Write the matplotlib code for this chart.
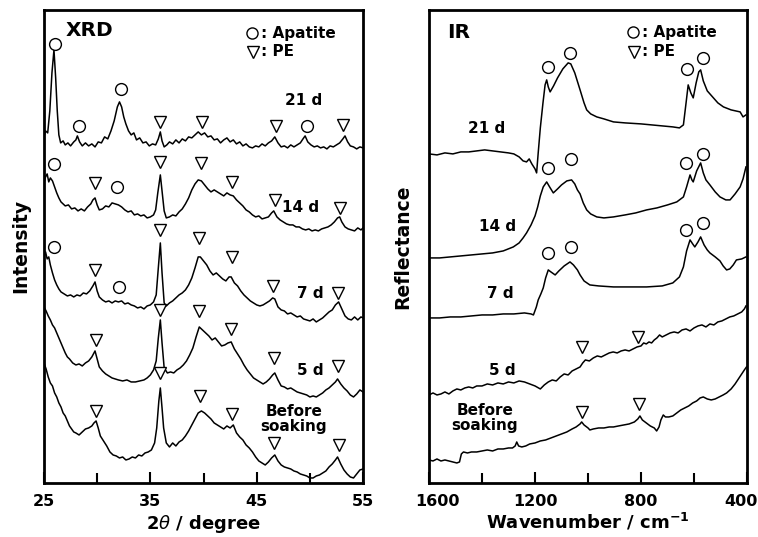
import matplotlib
matplotlib.use("Agg")
import matplotlib.pyplot as plt
from matplotlib.transforms import ScaledTranslation

plt.rcParams['font.family'] = ['DejaVu Sans']
plt.rcParams['font.weight'] = 'bold'
plt.rcParams['mathtext.fontset'] = 'custom'
plt.rcParams['mathtext.it'] = 'DejaVu Sans:italic:normal'
plt.rcParams['mathtext.rm'] = 'DejaVu Sans:bold'

# ---- XRD: 2theta (degree) and stacked intensity (arbitrary units) ----
xrd_21_x = [25.0, 25.15, 25.35, 25.55, 25.75, 25.94, 26.1, 26.25, 26.4, 26.57, 26.8, 27.0, 27.25, 27.5, 27.8,
            28.0, 28.14, 28.35, 28.6, 28.9, 29.2, 29.5, 29.8, 30.1, 30.4, 30.7, 31.0, 31.3, 31.6, 31.9,
            32.1, 32.3, 32.5, 32.7, 32.95, 33.2, 33.45, 33.7, 34.0, 34.3, 34.6, 34.9, 35.2, 35.5, 35.75,
            35.94, 36.1, 36.3, 36.55, 36.8, 37.1, 37.4, 37.7, 38.0, 38.3, 38.6, 38.9, 39.2, 39.5, 39.8,
            40.1, 40.4, 40.7, 41.0, 41.3, 41.6, 41.9, 42.2, 42.5, 42.8, 43.1, 43.4, 43.7, 44.0, 44.3,
            44.6, 44.9, 45.2, 45.5, 45.8, 46.1, 46.4, 46.7, 47.0, 47.3, 47.6, 47.9, 48.2, 48.5, 48.8,
            49.1, 49.35, 49.55, 49.8, 50.1, 50.4, 50.7, 51.0, 51.3, 51.6, 51.9, 52.2, 52.5, 52.8, 53.1,
            53.3, 53.55, 53.8, 54.1, 54.4, 54.7, 55.0]
xrd_21_y = [346, 352, 350, 372, 410, 433, 405, 372, 348, 340, 342, 338, 340, 337, 341,
            343, 347, 341, 337, 340, 337, 339, 336, 341, 340, 346, 344, 352, 362, 376,
            381, 376, 366, 359, 352, 348, 350, 343, 345, 340, 341, 337, 339, 338, 344,
            351, 342, 336, 338, 341, 339, 343, 340, 344, 342, 346, 345, 348, 351, 348,
            350, 346, 347, 343, 344, 340, 343, 345, 341, 343, 339, 341, 337, 339, 336,
            335, 337, 336, 339, 337, 340, 342, 346, 340, 336, 337, 335, 338, 336, 338,
            340, 344, 347, 341, 338, 336, 337, 335, 336, 334, 337, 336, 338, 340, 344,
            347, 341, 337, 336, 334, 336, 335]

xrd_14_x = [25.0, 25.15, 25.3, 25.45, 25.6, 25.8, 26.0, 26.2, 26.4, 26.6, 26.8, 27.0, 27.3, 27.6, 27.9,
            28.2, 28.5, 28.8, 29.1, 29.4, 29.6, 29.8, 30.0, 30.2, 30.5, 30.8, 31.1, 31.4, 31.7, 32.0,
            32.3, 32.6, 32.9, 33.2, 33.5, 33.8, 34.1, 34.4, 34.7, 35.0, 35.3, 35.5, 35.7, 35.94, 36.1,
            36.3, 36.5, 36.8, 37.1, 37.4, 37.7, 38.0, 38.3, 38.6, 38.9, 39.2, 39.5, 39.8, 40.1, 40.4,
            40.7, 41.0, 41.3, 41.6, 41.9, 42.2, 42.5, 42.8, 43.1, 43.4, 43.7, 44.0, 44.3, 44.6, 44.9,
            45.2, 45.5, 45.8, 46.1, 46.4, 46.6, 46.9, 47.2, 47.5, 47.8, 48.1, 48.4, 48.7, 49.0, 49.3,
            49.6, 49.9, 50.2, 50.5, 50.8, 51.1, 51.4, 51.7, 52.0, 52.3, 52.6, 52.8, 53.0, 53.3, 53.6,
            53.9, 54.2, 54.5, 54.8, 55.0]
xrd_14_y = [300, 306, 309, 301, 305, 302, 296, 290, 285, 281, 279, 277, 278, 274, 275,
            272, 274, 272, 276, 279, 283, 285, 278, 273, 274, 277, 276, 280, 279, 278,
            276, 273, 271, 272, 268, 269, 267, 268, 265, 266, 268, 273, 290, 308, 292,
            272, 265, 266, 268, 267, 271, 274, 279, 285, 293, 299, 303, 302, 298, 294,
            291, 293, 291, 289, 287, 290, 288, 287, 283, 280, 277, 273, 271, 268, 266,
            267, 264, 265, 266, 270, 272, 266, 263, 261, 259, 258, 258, 256, 256, 254,
            253, 254, 252, 253, 252, 254, 255, 256, 258, 261, 265, 266, 261, 256, 254,
            253, 252, 255, 253, 255]

xrd_7_x = [25.0, 25.15, 25.3, 25.45, 25.6, 25.8, 26.0, 26.2, 26.4, 26.6, 26.9, 27.2, 27.5, 27.8, 28.1,
           28.4, 28.7, 29.0, 29.3, 29.6, 29.8, 30.0, 30.2, 30.5, 30.8, 31.1, 31.4, 31.7, 32.0, 32.3,
           32.6, 32.9, 33.2, 33.5, 33.8, 34.1, 34.4, 34.7, 35.0, 35.3, 35.55, 35.75, 35.94, 36.1, 36.3,
           36.5, 36.8, 37.1, 37.4, 37.7, 38.0, 38.3, 38.6, 38.9, 39.2, 39.5, 39.7, 40.0, 40.3, 40.6,
           40.9, 41.2, 41.5, 41.8, 42.1, 42.4, 42.6, 42.9, 43.2, 43.5, 43.8, 44.1, 44.4, 44.7, 45.0,
           45.3, 45.6, 45.9, 46.2, 46.5, 46.7, 47.0, 47.3, 47.6, 47.9, 48.2, 48.5, 48.8, 49.1, 49.4,
           49.7, 50.0, 50.3, 50.6, 50.9, 51.2, 51.5, 51.8, 52.1, 52.4, 52.7, 53.0, 53.3, 53.6, 53.9,
           54.2, 54.5, 54.8, 55.0]
xrd_7_y = [226, 231, 224, 226, 218, 210, 203, 198, 194, 191, 189, 187, 188, 186, 188,
           187, 190, 189, 192, 197, 201, 192, 186, 183, 181, 182, 180, 182, 181, 182,
           179, 180, 178, 177, 175, 176, 174, 177, 178, 181, 188, 215, 240, 210, 180,
           177, 180, 182, 185, 188, 190, 193, 198, 205, 215, 226, 226, 222, 218, 212,
           208, 210, 207, 204, 202, 206, 206, 200, 197, 192, 188, 185, 182, 180, 178,
           177, 178, 180, 182, 185, 184, 176, 173, 172, 169, 170, 168, 166, 167, 164,
           163, 162, 164, 161, 163, 165, 168, 171, 173, 178, 181, 174, 167, 164, 163,
           166, 163, 166, 165]

xrd_5_x = [25.0, 25.2, 25.4, 25.6, 25.8, 26.0, 26.2, 26.4, 26.6, 26.8, 27.0, 27.2, 27.4, 27.7, 28.0,
           28.3, 28.6, 28.9, 29.2, 29.5, 29.8, 30.0, 30.2, 30.5, 30.8, 31.1, 31.4, 31.7, 32.0, 32.4,
           32.8, 33.2, 33.6, 34.0, 34.4, 34.7, 35.0, 35.3, 35.55, 35.75, 35.94, 36.1, 36.3, 36.6, 36.9,
           37.2, 37.5, 37.8, 38.1, 38.4, 38.7, 39.0, 39.3, 39.6, 39.9, 40.2, 40.5, 40.8, 41.1, 41.4,
           41.7, 42.0, 42.3, 42.6, 42.9, 43.2, 43.5, 43.8, 44.1, 44.4, 44.7, 45.0, 45.3, 45.6, 45.9,
           46.2, 46.5, 46.7, 47.0, 47.3, 47.6, 47.9, 48.2, 48.5, 48.8, 49.1, 49.4, 49.7, 50.0, 50.3,
           50.6, 50.9, 51.2, 51.5, 51.8, 52.1, 52.4, 52.6, 52.9, 53.2, 53.5, 53.8, 54.1, 54.4, 54.7,
           55.0]
xrd_5_y = [176, 172, 167, 163, 158, 155, 150, 145, 140, 135, 130, 126, 124, 120, 118,
           119, 117, 120, 122, 126, 132, 124, 116, 112, 109, 107, 105, 104, 103, 102,
           103, 101, 101, 102, 103, 105, 108, 113, 122, 145, 163, 140, 115, 110, 111,
           110, 113, 115, 118, 122, 128, 135, 146, 156, 153, 150, 147, 143, 145, 141,
           137, 138, 140, 141, 134, 129, 124, 118, 113, 109, 105, 103, 101, 99, 101,
           104, 108, 110, 103, 97, 96, 94, 95, 93, 91, 90, 89, 88, 86, 87,
           86, 88, 90, 93, 95, 98, 101, 104, 99, 95, 92, 88, 86, 89, 93,
           91]

xrd_0_x = [25.0, 25.2, 25.4, 25.6, 25.8, 26.0, 26.2, 26.4, 26.6, 26.8, 27.0, 27.2, 27.4, 27.6, 27.8,
           28.0, 28.3, 28.6, 28.9, 29.2, 29.5, 29.7, 29.9, 30.1, 30.3, 30.6, 30.9, 31.2, 31.5, 31.8,
           32.1, 32.4, 32.7, 33.0, 33.3, 33.6, 33.9, 34.2, 34.5, 34.8, 35.1, 35.4, 35.6, 35.8, 35.94,
           36.1, 36.25, 36.5, 36.8, 37.1, 37.4, 37.7, 38.0, 38.3, 38.6, 38.9, 39.2, 39.5, 39.8, 40.1,
           40.4, 40.7, 41.0, 41.3, 41.6, 41.9, 42.2, 42.5, 42.8, 43.1, 43.4, 43.7, 44.0, 44.3, 44.6,
           44.9, 45.2, 45.5, 45.8, 46.1, 46.4, 46.7, 47.0, 47.3, 47.6, 47.9, 48.2, 48.5, 48.8, 49.1,
           49.4, 49.7, 50.0, 50.3, 50.6, 50.9, 51.2, 51.5, 51.8, 52.1, 52.4, 52.6, 52.9, 53.2, 53.5,
           53.8, 54.1, 54.4, 54.7, 55.0]
xrd_0_y = [120, 114, 106, 100, 97, 90, 86, 80, 76, 70, 67, 62, 57, 54, 51,
           50, 48, 51, 54, 55, 57, 60, 62, 55, 47, 42, 37, 31, 28, 27,
           25, 26, 23, 24, 26, 25, 28, 27, 30, 31, 33, 40, 55, 82, 95,
           75, 55, 40, 36, 40, 37, 41, 43, 47, 52, 58, 64, 70, 72, 70,
           67, 64, 60, 58, 56, 54, 57, 55, 58, 50, 46, 43, 38, 35, 31,
           26, 22, 20, 18, 21, 25, 28, 22, 18, 16, 15, 14, 12, 11, 9,
           8, 7, 5, 5, 7, 8, 10, 12, 16, 19, 23, 26, 19, 13, 9,
           6, 5, 9, 13, 14]

xrd_apatite_x = [26.0, 28.3, 32.2, 49.7, 25.94, 31.9, 25.94, 32.1]
xrd_apatite_y = [439, 357, 394, 357, 319, 296, 236, 196]
xrd_pe_x = [35.94, 39.9, 46.8, 53.1, 29.8, 35.94, 39.8, 42.7, 46.7, 52.8,
            29.8, 35.94, 39.6, 42.7, 46.5, 52.6, 29.9, 35.94, 39.6, 42.6, 46.6, 52.6,
            29.9, 35.94, 39.7, 42.7, 46.6, 52.7]
xrd_pe_y = [361, 361, 357, 358, 300, 321, 320, 301, 283, 275,
            213, 253, 245, 226, 197, 190, 143, 173, 172, 154, 125, 117,
            72, 110, 87, 69, 40, 38]

# ---- IR: wavenumber (cm-1) and stacked reflectance (arbitrary units) ----
ir_21_x = [1600, 1570, 1540, 1510, 1480, 1450, 1420, 1390, 1360, 1330, 1300, 1280, 1260, 1245, 1232,
           1222, 1212, 1200, 1194, 1188, 1180, 1170, 1162, 1156, 1150, 1143, 1130, 1115, 1095, 1075,
           1065, 1050, 1030, 1015, 1005, 990, 967, 940, 904, 860, 800, 760, 720, 680, 655,
           640, 630, 622, 612, 603, 592, 582, 575, 565, 550, 530, 510, 489, 460, 426,
           415, 404]
ir_21_y = [329, 328, 330, 329, 331, 331, 332, 333, 332, 331, 330, 329, 326, 322, 321,
           324, 319, 314, 310, 330, 355, 380, 398, 403, 396, 391, 397, 405, 414, 420,
           419, 410, 393, 380, 373, 369, 366, 364, 361, 360, 359, 358, 357, 356, 355,
           358, 380, 398, 390, 385, 400, 411, 413, 402, 392, 386, 380, 376, 373, 371,
           366, 368]

ir_14_x = [1600, 1560, 1520, 1480, 1440, 1400, 1360, 1320, 1282, 1260, 1245, 1232, 1215, 1200, 1190,
           1180, 1169, 1156, 1145, 1131, 1115, 1100, 1080, 1062, 1050, 1040, 1030, 1018, 1005, 990,
           967, 940, 904, 860, 820, 779, 740, 700, 665, 640, 628, 615, 608, 603, 590,
           575, 565, 555, 540, 520, 502, 480, 464, 445, 426, 415, 404]
ir_14_y = [225, 225, 226, 227, 228, 229, 230, 232, 236, 240, 245, 250, 258, 267, 276,
           287, 296, 301, 296, 290, 294, 298, 302, 303, 299, 293, 289, 280, 273, 269,
           266, 265, 266, 268, 270, 273, 275, 278, 281, 286, 296, 308, 303, 301, 312,
           320, 310, 303, 298, 291, 286, 283, 283, 289, 296, 304, 316]

ir_7_x = [1600, 1560, 1520, 1480, 1440, 1400, 1360, 1320, 1280, 1240, 1215, 1206, 1195, 1188, 1178,
          1169, 1160, 1150, 1140, 1124, 1110, 1090, 1068, 1055, 1040, 1030, 1015, 993, 960, 904,
          840, 779, 720, 680, 655, 640, 628, 615, 605, 597, 585, 575, 562, 550, 540,
          520, 502, 490, 477, 465, 452, 440, 420, 404]
ir_7_y = [165, 165, 166, 166, 167, 168, 168, 169, 169, 170, 169, 168, 176, 183, 189,
          195, 205, 213, 211, 208, 212, 217, 221, 218, 213, 208, 202, 198, 197, 196,
          196, 196, 197, 200, 206, 216, 232, 243, 239, 236, 241, 246, 238, 233, 230,
          226, 222, 217, 213, 214, 218, 223, 224, 226]

ir_5_x = [1600, 1585, 1570, 1555, 1540, 1525, 1510, 1495, 1480, 1465, 1450, 1435, 1420, 1400, 1380,
          1360, 1340, 1320, 1300, 1280, 1260, 1240, 1220, 1200, 1180, 1165, 1150, 1135, 1120, 1105,
          1090, 1075, 1060, 1045, 1030, 1020, 1010, 995, 980, 965, 950, 935, 920, 905, 890,
          875, 860, 845, 830, 815, 800, 790, 780, 770, 760, 750, 740, 730, 720, 705,
          690, 675, 660, 645, 630, 615, 600, 585, 570, 555, 540, 525, 510, 495, 480,
          465, 450, 435, 420, 410, 404]
ir_5_y = [88, 90, 88, 89, 91, 89, 92, 94, 93, 95, 96, 95, 97, 97, 99,
          98, 100, 99, 101, 100, 102, 101, 99, 97, 94, 98, 101, 103, 102, 106,
          109, 108, 112, 114, 116, 120, 123, 122, 125, 127, 126, 128, 130, 131, 130,
          132, 133, 132, 134, 136, 137, 140, 139, 141, 140, 143, 145, 148, 146, 148,
          150, 151, 150, 153, 154, 152, 155, 157, 158, 156, 159, 158, 161, 162, 164,
          166, 167, 169, 171, 174, 177]

ir_0_x = [1600, 1585, 1570, 1555, 1540, 1525, 1510, 1495, 1485, 1478, 1470, 1455, 1440, 1420, 1400,
          1380, 1360, 1340, 1320, 1300, 1285, 1275, 1269, 1262, 1250, 1235, 1220, 1200, 1180, 1160,
          1140, 1120, 1100, 1080, 1060, 1045, 1030, 1024, 1015, 1000, 993, 980, 960, 940, 920,
          904, 885, 865, 845, 825, 812, 804, 795, 780, 765, 750, 741, 732, 725, 716,
          708, 695, 680, 665, 650, 635, 620, 605, 590, 577, 565, 550, 535, 520, 505,
          490, 477, 460, 445, 430, 420, 410, 402]
ir_0_y = [23, 22, 24, 22, 23, 22, 21, 20, 21, 29, 31, 30, 31, 31, 32,
          33, 32, 34, 34, 35, 35, 37, 41, 37, 36, 37, 39, 40, 42, 43,
          45, 47, 49, 51, 54, 56, 59, 61, 58, 55, 53, 54, 55, 55, 56,
          56, 57, 58, 59, 61, 64, 67, 63, 60, 57, 55, 52, 56, 63, 68,
          66, 66, 67, 70, 73, 75, 77, 80, 82, 85, 86, 84, 83, 84, 86,
          88, 90, 94, 99, 105, 109, 113, 116]

ir_apatite_x = [1151, 1068, 626, 566, 1151, 1064, 630, 566, 1151, 1064, 630, 566]
ir_apatite_y = [416, 430, 414, 425, 315, 324, 320, 329, 230, 236, 253, 260]
ir_pe_x = [1023, 811, 1023, 808]
ir_pe_y = [136, 146, 71, 79]

xrd_curves = [(xrd_21_x, xrd_21_y), (xrd_14_x, xrd_14_y), (xrd_7_x, xrd_7_y),
              (xrd_5_x, xrd_5_y), (xrd_0_x, xrd_0_y)]
ir_curves = [(ir_21_x, ir_21_y), (ir_14_x, ir_14_y), (ir_7_x, ir_7_y),
             (ir_5_x, ir_5_y), (ir_0_x, ir_0_y)]

fig = plt.figure(figsize=(7.58, 5.37), dpi=100)
ax1 = fig.add_axes([0.058, 0.1006, 0.421, 0.881])
ax2 = fig.add_axes([0.566, 0.1006, 0.4195, 0.881])

mk = dict(linestyle='none', markerfacecolor='white', markeredgecolor='black',
          markeredgewidth=1.0, markersize=8.5)

for x, y in xrd_curves:
    ax1.plot(x, y, color='black', lw=1.1)
ax1.plot(xrd_apatite_x, xrd_apatite_y, marker='o', **mk)
ax1.plot(xrd_pe_x, xrd_pe_y, marker='v', **mk)

for x, y in ir_curves:
    ax2.plot(x, y, color='black', lw=1.1)
ax2.plot(ir_apatite_x, ir_apatite_y, marker='o', **mk)
ax2.plot(ir_pe_x, ir_pe_y, marker='v', **mk)

ax1.set_xlim(25, 55)
ax1.set_ylim(0, 473)
ax1.set_xticks([25, 35, 45, 55])
ax1.set_xticks([30, 40, 50], minor=True)
ax2.set_xlim(1600, 400)
ax2.set_ylim(0, 473)
ax2.set_xticks([1600, 1200, 800, 400])
ax2.set_xticks([1400, 1000, 600], minor=True)

for ax in (ax1, ax2):
    ax.set_yticks([])
    for s in ax.spines.values():
        s.set_linewidth(2)
    ax.tick_params(axis='x', which='both', direction='in', width=1.5, labelsize=11.5)
    ax.tick_params(axis='x', which='major', length=8, pad=8)
    ax.tick_params(axis='x', which='minor', length=7)
    for lab in ax.get_xticklabels():
        lab.set_fontweight('bold')

# nudge the outer IR tick labels inward like the original
ir_labels = ax2.get_xticklabels()
ir_labels[0].set_transform(ir_labels[0].get_transform() + ScaledTranslation(6 / 72, 0, fig.dpi_scale_trans))
ir_labels[-1].set_transform(ir_labels[-1].get_transform() + ScaledTranslation(-4 / 72, 0, fig.dpi_scale_trans))

ax1.set_xlabel(r'2$\mathit{\theta}$ / degree', fontsize=13, fontweight='bold', labelpad=3)
ax1.set_ylabel('Intensity', fontsize=13.5, fontweight='bold', labelpad=10)
ax2.set_xlabel(r'Wavenumber / cm$^{\mathrm{-1}}$', fontsize=13, fontweight='bold', labelpad=2)
ax2.set_ylabel('Reflectance', fontsize=13.5, fontweight='bold', labelpad=12)

# panel titles and key
ax1.text(0.069, 0.956, 'XRD', transform=ax1.transAxes, fontsize=14.5, fontweight='bold', va='center')
ax2.text(0.057, 0.953, 'IR', transform=ax2.transAxes, fontsize=14.5, fontweight='bold', va='center')
key = dict(linestyle='none', markerfacecolor='white', markeredgecolor='black',
           markeredgewidth=1.0, markersize=8, clip_on=False)
ax1.plot([0.651], [0.951], marker='o', transform=ax1.transAxes, **key)
ax1.plot([0.654], [0.911], marker='v', transform=ax1.transAxes, **key)
ax1.text(0.68, 0.951, ': Apatite', transform=ax1.transAxes, fontsize=11, fontweight='bold', va='center')
ax1.text(0.68, 0.911, ': PE', transform=ax1.transAxes, fontsize=11, fontweight='bold', va='center')
ax2.plot([0.642], [0.953], marker='o', transform=ax2.transAxes, **key)
ax2.plot([0.645], [0.911], marker='v', transform=ax2.transAxes, **key)
ax2.text(0.671, 0.953, ': Apatite', transform=ax2.transAxes, fontsize=11, fontweight='bold', va='center')
ax2.text(0.671, 0.911, ': PE', transform=ax2.transAxes, fontsize=11, fontweight='bold', va='center')

lab = dict(fontsize=11, fontweight='bold', ha='center', va='center')
ax1.text(49.43, 382, '21 d', **lab)
ax1.text(49.1, 275, '14 d', **lab)
ax1.text(50.0, 189, '7 d', **lab)
ax1.text(50.0, 112, '5 d', **lab)
ax1.text(48.5, 64, 'Before\nsoaking', linespacing=1.05, **lab)

ax2.text(1381, 354, '21 d', **lab)
ax2.text(1343, 256, '14 d', **lab)
ax2.text(1332, 189, '7 d', **lab)
ax2.text(1325, 112, '5 d', **lab)
ax2.text(1389, 65, 'Before\nsoaking', linespacing=1.05, **lab)

fig.savefig('out.png', dpi=100)
